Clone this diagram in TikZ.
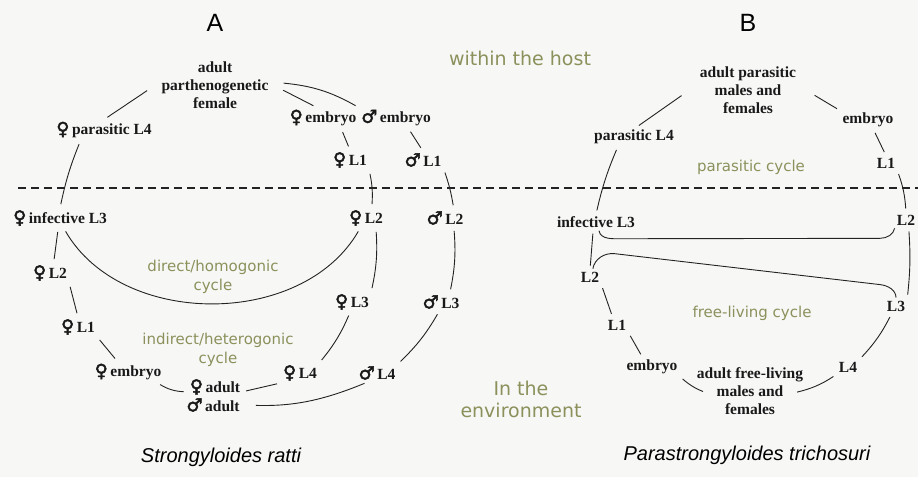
\documentclass[tikz,border=0pt]{standalone}
\usepackage{fontspec}
\setmainfont{Liberation Serif}
\setsansfont{Liberation Sans}
\newfontfamily\symfont{DejaVu Sans}[FakeBold=2.5]
\newfontfamily\labelfont{DejaVu Sans}
\usepackage{tikz}
\usetikzlibrary{
    positioning,
    calc
}
\definecolor{labgreen}{RGB}{140,145,92}
\definecolor{bgpaper}{RGB}{247,247,246}
\definecolor{inkline}{RGB}{35,35,35}
\tikzset{
  stage/.style   = {font=\bfseries\fontsize{15.5}{18}\selectfont, inner sep=2pt,
                    align=center, text=black!90},
  link/.style    = {line width=0.9pt, inkline, shorten <=4pt, shorten >=4pt},
  cyclab/.style  = {font=\labelfont\fontsize{15}{19}\selectfont, text=labgreen,
                    align=center},
  hostlab/.style = {font=\labelfont\fontsize{19}{22}\selectfont, text=labgreen,
                    align=center},
  species/.style = {font=\sffamily\itshape\fontsize{20}{24}\selectfont},
  panel/.style   = {font=\sffamily\fontsize{25}{30}\selectfont},
  divide/.style  = {line width=1.2pt, inkline, dash pattern=on 8pt off 5pt}
}
\newcommand{\fem}{{\symfont\fontsize{18}{18}\selectfont ♀}\,}
\newcommand{\mal}{{\symfont\fontsize{18}{18}\selectfont ♂}\,}

\begin{document}
\begin{tikzpicture}[x=1pt, y=1pt]
  \fill[bgpaper] (0,0) rectangle (918,-477);
  \useasboundingbox (0,0) rectangle (918,-477);

  \node[panel] (ta) at (215,-23) {A};
  \node[panel] (tb) at (748,-23) {B};
  \node[hostlab] (host) at (520,-58) {within the host};
  \node[hostlab] (env) at (521,-399) {In the\\environment};

  \coordinate (dl) at (18,-188);
  \coordinate (dr) at (918,-188);
  \draw[divide] (dl) -- (dr);

  \node[stage, inner xsep=11pt] (apf) at (215,-85) {adult\\parthenogenetic\\female};
  \node[stage] (apl4) at (104,-130) {\fem parasitic L4};
  \node[stage] (aemf) at (323,-118) {\fem embryo};
  \node[stage] (aemm) at (396,-118) {\mal embryo};
  \node[stage] (al1f) at (350,-160) {\fem L1};
  \node[stage] (al1m) at (423,-160) {\mal L1};
  \node[stage] (al3i) at (60,-218) {\fem infective L3};
  \node[stage] (al2f) at (366,-218) {\fem L2};
  \node[stage] (al2m) at (445,-218) {\mal L2};
  \node[stage] (al2fl) at (50,-273) {\fem L2};
  \node[stage] (al1fl) at (78,-327) {\fem L1};
  \node[stage] (aembl) at (128,-372) {\fem embryo};
  \node[stage] (aadf) at (215,-387) {\fem adult};
  \node[stage] (aadm) at (213,-405) {\mal adult};
  \node[stage] (al3f) at (352,-302) {\fem L3};
  \node[stage] (al3m) at (441,-302) {\mal L3};
  \node[stage] (al4f) at (300,-373) {\fem L4};
  \node[stage] (al4m) at (377,-373) {\mal L4};

  \node[cyclab] (dcyc) at (213,-277) {direct/homogonic\\cycle};
  \node[cyclab] (icyc) at (218,-350) {indirect/heterogonic\\cycle};
  \node[species] (sa) at (221,-457) {Strongyloides ratti};

  \draw[link] (apf.183) -- (apl4.north);
  \draw[link] (apf.-3) -- (aemf.120);
  \draw[link] (apf.2) to[bend left=12] (aemm.north west);
  \draw[link] (aemf.-30) -- (al1f.north);
  \draw[link] (aemm.-40) -- (al1m.north);
  \draw[link] (al1f.south east) to[bend left=8] (al2f.60);
  \draw[link] (al1m.south east) to[bend left=5] (al2m.45);
  \draw[link] (apl4.204) to[bend right=5] (al3i.north);
  \draw[link] (al3i.-100) -- (al2fl.70);
  \draw[link] (al3i.-70) to[out=-60,in=-120] (al2f.-120);
  \draw[link] (al2f.-45) to[bend left=8] (al3f.north east);
  \draw[link] (al2m.-45) to[bend left=8] (al3m.45);
  \draw[link] (al2fl.south east) -- (al1fl.north);
  \draw[link] (al1fl.south east) -- (aembl.135);
  \draw[link] (aembl.-20) to[bend right=15] (aadf.190);
  \draw[link] (al3f.-100) to[bend left=8] (al4f.north east);
  \draw[link] (al4f.south west) -- (aadf.-10);
  \draw[link] (al3m.-100) to[bend left=8] (al4m.north east);
  \draw[link, shorten >=14pt] (al4m.-135) to[bend left=12] (aadm.east);

  \node[stage, inner xsep=15pt] (bpar) at (748,-90) {adult parasitic\\males and\\females};
  \node[stage] (bemb) at (868,-120) {embryo};
  \node[stage] (bl1) at (886,-163) {L1};
  \node[stage] (bpl4) at (634,-137) {parasitic L4};
  \node[stage] (bl3i) at (596,-222) {infective L3};
  \node[stage] (bl2r) at (906,-220) {L2};
  \node[stage] (bl2l) at (590,-277) {L2};
  \node[stage] (bl1l) at (617,-325) {L1};
  \node[stage] (bembl) at (652,-367) {embryo};
  \node[stage] (bfree) at (750,-391) {adult free-living\\males and\\females};
  \node[stage] (bl4) at (848,-367) {L4};
  \node[stage] (bl3) at (896,-306) {L3};

  \node[cyclab] (pcyc) at (751,-167) {parasitic cycle};
  \node[cyclab] (fcyc) at (752,-313) {free-living cycle};
  \node[species] (sb) at (747,-455) {Parastrongyloides trichosuri};

  \coordinate (bfreeW) at ([xshift=12pt,yshift=-2pt]bfree.west);
  \coordinate (bfreeE) at ([xshift=-12pt,yshift=-2pt]bfree.east);

  \draw[link] (bpar.183) -- (bpl4.80);
  \draw[link] (bpar.-3) -- (bemb.north west);
  \draw[link] (bemb.-60) -- (bl1.north);
  \draw[link] (bl1.south east) to[bend left=8] (bl2r.north);
  \draw[link] (bpl4.-150) to[bend right=5] (bl3i.north);
  \draw[link] (bl3i.-110) -- (bl2l.north);
  \draw[link, shorten <=1pt, shorten >=1pt] (bl3i.-70) to[out=-80,in=180] ++(25,-9)
    -- ($(bl2r.south west)+(-15,-11)$) to[out=0,in=-100] (bl2r.south west);
  \draw[link] (bl2r.-70) to[bend left=5] (bl3.north east);
  \draw[link, shorten <=1pt, shorten >=1pt] (bl2l.70) to[out=80,in=174] ++(22,16)
    -- ($(bl3.north)+(-16,14)$) to[out=-6,in=90] (bl3.north);
  \draw[link] (bl2l.south east) -- (bl1l.120);
  \draw[link] (bl1l.south east) -- (bembl.135);
  \draw[link] (bembl.south east) to[bend right=10] (bfreeW);
  \draw[link] (bfreeE) to[bend right=10] (bl4.south west);
  \draw[link] (bl4.north east) to[bend right=8] (bl3.-120);
\end{tikzpicture}
\end{document}
